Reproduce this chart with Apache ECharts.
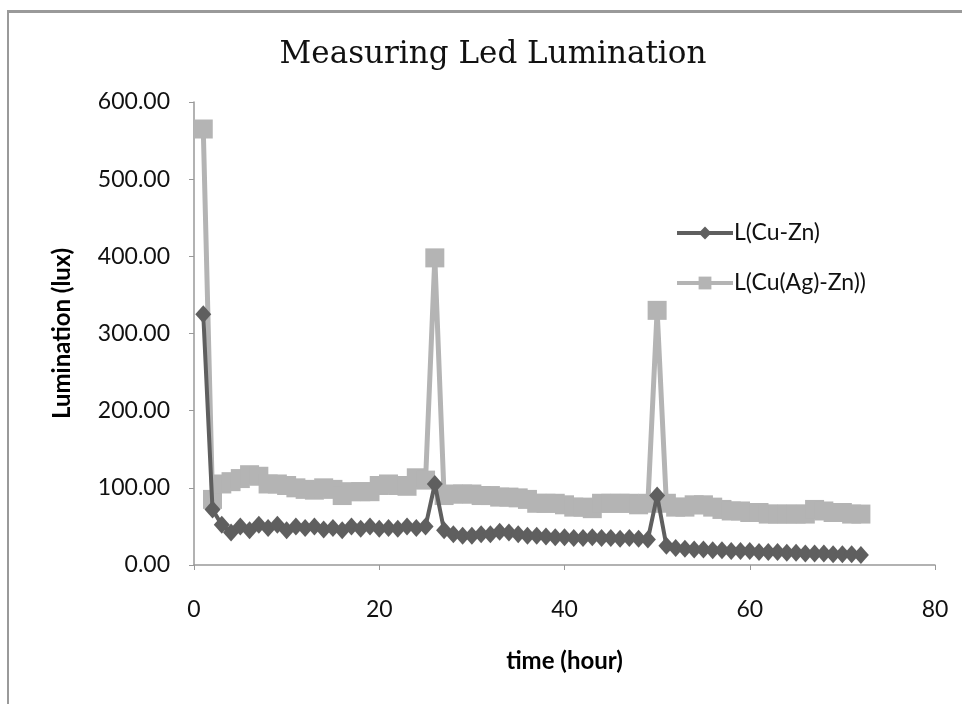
<!DOCTYPE html>
<html>
<head>
<meta charset="utf-8">
<script src="https://cdn.jsdelivr.net/npm/echarts@6/dist/echarts.min.js"></script>
<style>
  html, body { margin: 0; padding: 0; background: #fff; }
  #wrap { position: relative; width: 962px; height: 704px; overflow: hidden; }
  #frame { position: absolute; left: 7px; top: 10px; width: 1000px; height: 800px;
           border-top: 3px solid #9a9a9a; border-left: 2px solid #9a9a9a; }
  #chart { position: absolute; left: 0; top: 0; width: 962px; height: 704px; }
</style>
</head>
<body>
<div id="wrap">
  <div id="frame"></div>
  <div id="chart"></div>
</div>
<script>
const hours = Array.from({length: 72}, (_, i) => i + 1);
const seriesNames = ['L(Cu-Zn)', 'L(Cu(Ag)-Zn))'];
const cuZn = [
  325, 72, 52, 42, 50, 45, 52, 48, 52, 45,
  50, 48, 50, 46, 48, 45, 50, 47, 50, 47,
  48, 47, 50, 48, 50, 105, 45, 40, 38, 38,
  40, 40, 43, 42, 40, 38, 38, 37, 36, 36,
  35, 35, 36, 35, 35, 34, 35, 34, 33, 90,
  25, 22, 21, 20, 20, 19, 19, 18, 18, 18,
  17, 17, 17, 16, 16, 15, 15, 15, 14, 14,
  14, 13
];
const cuAgZn = [
  565, 85, 105, 108, 112, 117, 115, 105, 105, 103,
  100, 98, 97, 100, 98, 90, 95, 95, 95, 103,
  105, 103, 102, 113, 110, 398, 90, 92, 92, 92,
  90, 90, 88, 88, 87, 85, 80, 80, 80, 78,
  75, 75, 73, 80, 80, 80, 80, 78, 80, 330,
  80, 75, 75, 78, 78, 75, 72, 70, 70, 68,
  68, 66, 66, 66, 66, 66, 72, 70, 68, 68,
  66, 66
];
const xTicks = [0, 20, 40, 60, 80];
const yTicks = [0, 100, 200, 300, 400, 500, 600];

const chart = echarts.init(document.getElementById('chart'), null, {renderer: 'canvas'});
const pairs = arr => hours.map((h, i) => [h, arr[i]]);
chart.setOption({
  animation: false,
  backgroundColor: 'transparent',
  title: {
    text: 'Measuring Led Lumination',
    left: 488, top: 34, textAlign: 'center',
    textStyle: { fontFamily: 'DejaVu Serif', fontSize: 31, fontWeight: 'normal', color: '#111' }
  },
  legend: {
    orient: 'vertical',
    left: 670, top: 216,
    itemWidth: 56, itemHeight: 16,
    itemGap: 26,
    lineStyle: { width: 4 },
    textStyle: { fontFamily: 'Lato', fontSize: 23, color: '#111', lineHeight: 24, padding: [0, 0, 0, -4] },
    data: seriesNames
  },
  grid: { left: 194, right: 27, top: 102, bottom: 139, containLabel: false },
  xAxis: {
    type: 'value', min: xTicks[0], max: xTicks[xTicks.length - 1], interval: 20,
    name: 'time (hour)', nameLocation: 'middle', nameGap: 84,
    nameTextStyle: { fontFamily: 'Lato', fontSize: 24, fontWeight: 'bold', color: '#000' },
    axisLine: { lineStyle: { color: '#999', width: 1.5 } },
    axisTick: { show: true, length: 5, lineStyle: { color: '#999' } },
    axisLabel: { fontFamily: 'Lato', fontSize: 23, color: '#111', margin: 33 },
    splitLine: { show: false }
  },
  yAxis: {
    type: 'value', min: yTicks[0], max: yTicks[yTicks.length - 1], interval: 100,
    name: 'Lumination (lux)', nameLocation: 'middle', nameGap: 120, nameRotate: 90,
    nameTextStyle: { fontFamily: 'Lato', fontSize: 24, fontWeight: 'bold', color: '#000' },
    axisLine: { show: true, lineStyle: { color: '#999', width: 1.5 } },
    axisTick: { show: true, length: 5, lineStyle: { color: '#999' } },
    axisLabel: { fontFamily: 'Lato', fontSize: 23, color: '#111', margin: 24,
                 formatter: v => v.toFixed(2) },
    splitLine: { show: false }
  },
  series: [
    {
      name: seriesNames[1], type: 'line', data: pairs(cuAgZn),
      symbol: 'rect', symbolSize: 19, z: 2,
      lineStyle: { color: '#b4b4b4', width: 5 },
      itemStyle: { color: '#b4b4b4' }
    },
    {
      name: seriesNames[0], type: 'line', data: pairs(cuZn),
      symbol: 'diamond', symbolSize: [16, 18], z: 3,
      lineStyle: { color: '#5f5f5f', width: 4 },
      itemStyle: { color: '#5f5f5f' }
    }
  ]
});
</script>
</body>
</html>
